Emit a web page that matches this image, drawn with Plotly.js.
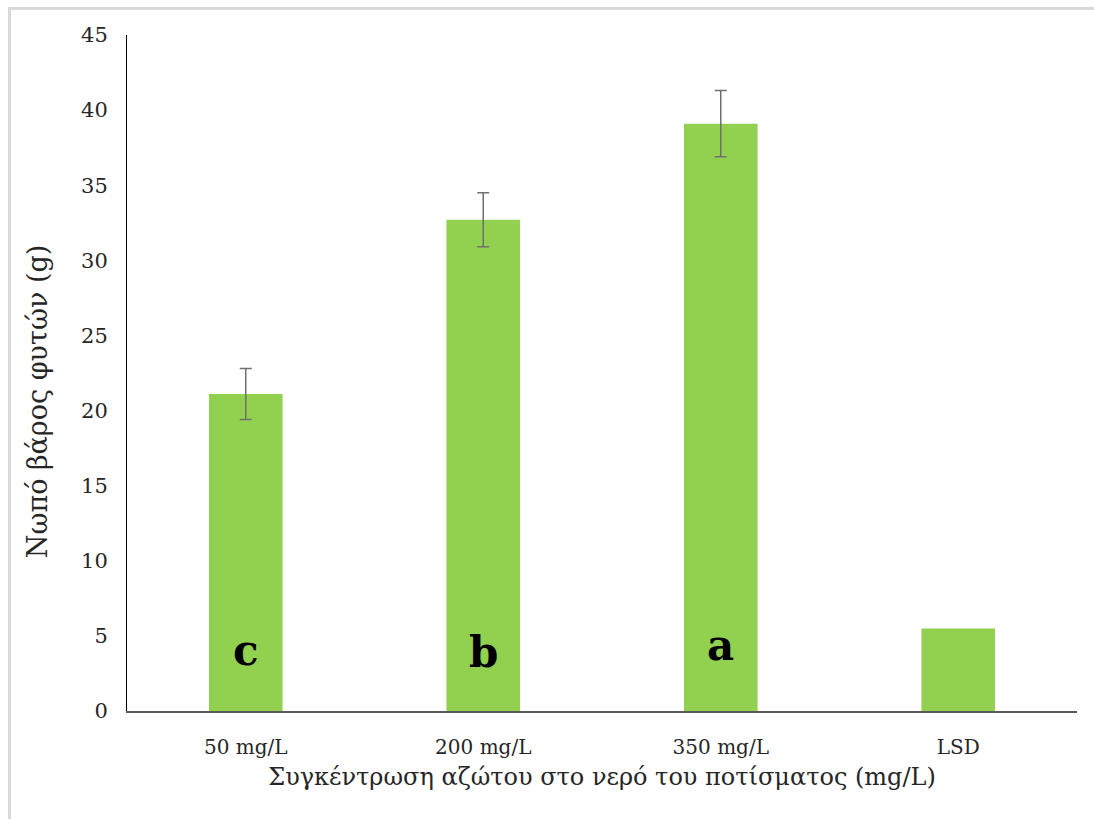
<!DOCTYPE html>
<html>
<head>
<meta charset="utf-8">
<script src="https://cdn.plot.ly/plotly-3.0.1.min.js"></script>
<style>
  html, body { margin: 0; padding: 0; background: #fff; }
  #wrap { position: relative; width: 1094px; height: 819px; }
  #chart { width: 1094px; height: 819px; }
  #bt { position: absolute; left: 8px; top: 7px; width: 1086px; height: 3px; background: #d9d9d9; }
  #bl { position: absolute; left: 8px; top: 7px; width: 3px; height: 812px; background: #d9d9d9; }
</style>
</head>
<body>
<div id="wrap">
  <div id="chart"></div>
  <div id="bt"></div>
  <div id="bl"></div>
</div>
<script>
const categories = ["50 mg/L", "200 mg/L", "350 mg/L", "LSD"];
const values = [21.1, 32.7, 39.1, 5.5];
const errors = [1.7, 1.8, 2.2, NaN];
const letters = ["c", "b", "a", ""];
const letterY = [4.0, 3.9, 4.35, 0];
const yTicks = [0, 5, 10, 15, 20, 25, 30, 35, 40, 45];
const yTitle = "Νωπό βάρος φυτών (g)";
const xTitle = "Συγκέντρωση αζώτου στο νερό του ποτίσματος (mg/L)";

const serif = "DejaVu Serif, Liberation Serif, serif";

const trace = {
  type: "bar",
  x: categories,
  y: values,
  marker: { color: "#92d050" },
  error_y: {
    type: "data",
    array: errors,
    visible: true,
    color: "#707070",
    thickness: 1.5,
    width: 6
  },
  hoverinfo: "none"
};

const annotations = [];
letters.forEach((t, i) => {
  if (!t) return;
  annotations.push({
    x: categories[i],
    y: letterY[i],
    xref: "x",
    yref: "y",
    text: "<b>" + t + "</b>",
    showarrow: false,
    font: { family: serif, size: 42, color: "#000" }
  });
});
annotations.push({
  xref: "paper",
  yref: "y",
  x: -0.094,
  y: 20.6,
  xanchor: "center",
  yanchor: "middle",
  textangle: -90,
  text: yTitle,
  showarrow: false,
  font: { family: serif, size: 27, color: "#262626" }
});

const layout = {
  width: 1094,
  height: 819,
  margin: { l: 127, r: 17, t: 35, b: 108 },
  paper_bgcolor: "#fff",
  plot_bgcolor: "#fff",
  bargap: 0.69,
  showlegend: false,
  xaxis: {
    type: "category",
    showline: true,
    linecolor: "#595959",
    linewidth: 1.5,
    showgrid: false,
    zeroline: false,
    ticks: "",
    ticklabelstandoff: 17,
    tickfont: { family: serif, size: 20, color: "#262626" },
    title: {
      text: xTitle,
      font: { family: serif, size: 24, color: "#262626" },
      standoff: 10
    }
  },
  yaxis: {
    range: [0, 45],
    tickvals: yTicks,
    ticktext: yTicks.map(String),
    showline: true,
    linecolor: "#000",
    linewidth: 1,
    showgrid: false,
    zeroline: false,
    ticks: "",
    ticklabelstandoff: 14,
    tickfont: { family: serif, size: 21, color: "#262626" }
  },
  annotations: annotations
};

Plotly.newPlot("chart", [trace], layout, { displayModeBar: false, staticPlot: true });
</script>
</body>
</html>
